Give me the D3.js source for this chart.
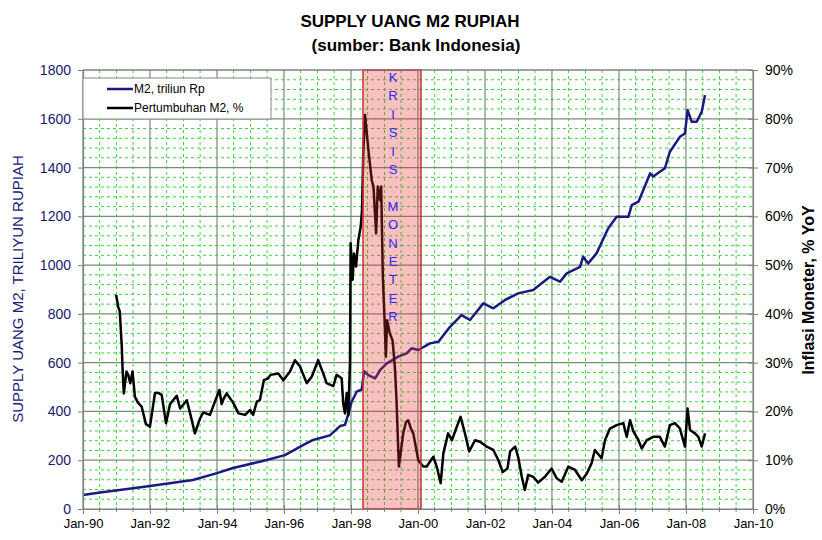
<!DOCTYPE html>
<html>
<head>
<meta charset="utf-8">
<script src="https://cdn.jsdelivr.net/npm/d3@7"></script>
<style>
  body { margin: 0; background: #fff; }
  svg text { font-family: Arial, "Liberation Sans", sans-serif; }
</style>
</head>
<body>
<svg id="chart" width="822" height="540"></svg>
<script>
// M2 money supply, trillion Rp (left axis)
var m2Years = [1990.00, 1990.51, 1991.10, 1992.00, 1993.28, 1994.00, 1994.48, 1995.28, 1996.03, 1996.57,
  1996.87, 1997.37, 1997.67, 1997.82, 1997.91, 1998.02, 1998.17, 1998.32, 1998.39, 1998.52,
  1998.72, 1998.87, 1999.07, 1999.41, 1999.66, 1999.81, 2000.01, 2000.36, 2000.61, 2000.96,
  2001.30, 2001.55, 2001.95, 2002.25, 2002.60, 2002.99, 2003.44, 2003.94, 2004.24, 2004.44,
  2004.84, 2004.93, 2005.08, 2005.33, 2005.68, 2005.93, 2006.28, 2006.38, 2006.58, 2006.93,
  2007.02, 2007.37, 2007.52, 2007.82, 2007.97, 2008.05, 2008.17, 2008.32, 2008.47, 2008.57];
var m2Values = [57, 68, 78, 94, 119, 147, 168, 194, 221, 262,
  283, 302, 340, 345, 385, 440, 481, 490, 565, 549,
  536, 570, 597, 625, 638, 659, 652, 679, 686, 747,
  795, 775, 843, 823, 857, 884, 898, 952, 932, 966,
  993, 1034, 1007, 1048, 1151, 1198, 1198, 1246, 1260, 1376,
  1363, 1397, 1465, 1526, 1540, 1636, 1588, 1588, 1629, 1697];

// M2 growth, % YoY (right axis)
var growthYears = [1990.99, 1991.05, 1991.10, 1991.16, 1991.18, 1991.22, 1991.30, 1991.35, 1991.41, 1991.48,
  1991.55, 1991.64, 1991.75, 1991.88, 1992.00, 1992.15, 1992.25, 1992.35, 1992.48, 1992.60,
  1992.80, 1992.90, 1993.10, 1993.22, 1993.34, 1993.49, 1993.59, 1993.79, 1993.91, 1994.07,
  1994.14, 1994.19, 1994.29, 1994.49, 1994.64, 1994.84, 1994.99, 1995.08, 1995.19, 1995.28,
  1995.40, 1995.53, 1995.60, 1995.83, 1995.98, 1996.18, 1996.33, 1996.48, 1996.68, 1996.83,
  1997.02, 1997.17, 1997.27, 1997.47, 1997.57, 1997.72, 1997.77, 1997.82, 1997.87, 1997.92,
  1997.97, 1997.99, 1998.05, 1998.09, 1998.15, 1998.22, 1998.29, 1998.33, 1998.37, 1998.42,
  1998.52, 1998.62, 1998.67, 1998.75, 1998.80, 1998.87, 1998.90, 1998.95, 1999.01, 1999.04,
  1999.08, 1999.16, 1999.24, 1999.31, 1999.36, 1999.43, 1999.56, 1999.64, 1999.71, 1999.79,
  1999.86, 2000.01, 2000.16, 2000.26, 2000.46, 2000.56, 2000.68, 2000.76, 2000.90, 2001.01,
  2001.16, 2001.27, 2001.40, 2001.53, 2001.70, 2001.85, 2002.05, 2002.25, 2002.40, 2002.53,
  2002.67, 2002.75, 2002.90, 2002.99, 2003.10, 2003.19, 2003.29, 2003.44, 2003.59, 2003.79,
  2003.99, 2004.14, 2004.29, 2004.49, 2004.69, 2004.89, 2005.04, 2005.18, 2005.28, 2005.48,
  2005.58, 2005.73, 2005.93, 2006.13, 2006.23, 2006.33, 2006.43, 2006.58, 2006.68, 2006.83,
  2007.02, 2007.22, 2007.37, 2007.52, 2007.67, 2007.82, 2007.97, 2008.05, 2008.12, 2008.27,
  2008.37, 2008.47, 2008.57];
var growthValues = [43.9, 41.5, 40.5, 33.3, 29.0, 23.7, 28.2, 27.5, 25.8, 28.2,
  23.0, 21.8, 21.0, 17.4, 16.9, 23.8, 23.8, 23.4, 17.6, 21.5,
  23.2, 20.6, 22.3, 19.0, 15.5, 18.5, 19.8, 19.3, 21.5, 24.4,
  21.5, 22.5, 23.7, 21.7, 19.6, 19.3, 20.3, 19.3, 22.0, 22.3,
  26.4, 26.8, 27.5, 27.8, 26.4, 28.2, 30.5, 29.2, 25.8, 27.1,
  30.5, 27.8, 25.8, 25.2, 27.5, 26.8, 21.5, 19.6, 23.8, 19.2,
  29.9, 54.5, 47.0, 52.4, 49.7, 55.1, 57.9, 61.3, 73.6, 80.8,
  73.6, 67.4, 66.1, 56.5, 66.1, 63.3, 66.1, 47.6, 37.4, 31.2,
  38.7, 36.0, 34.6, 29.2, 22.3, 8.7, 15.5, 17.8, 18.2, 16.5,
  15.5, 10.0, 8.7, 8.7, 10.7, 8.7, 5.3, 11.4, 15.5, 14.1,
  16.9, 18.9, 15.5, 11.8, 14.1, 13.8, 12.8, 12.1, 10.0, 7.6,
  8.3, 11.8, 12.8, 10.7, 6.6, 3.9, 7.0, 6.6, 5.4, 6.6,
  8.3, 6.3, 5.6, 8.7, 8.0, 5.9, 7.3, 9.4, 12.1, 10.4,
  14.1, 16.5, 17.2, 17.6, 14.8, 18.2, 15.9, 14.1, 12.4, 14.1,
  14.8, 14.8, 12.8, 17.2, 17.6, 16.5, 12.8, 20.6, 16.2, 15.5,
  14.8, 12.8, 15.5];

var leftTicks = d3.range(0, 1801, 200);
var rightTicks = d3.range(0, 91, 10);
var crisisSpan = [1998.36, 2000.09];
var crisisLabel = "KRISIS MONETER";
var legendNames = ["M2, triliun Rp", "Pertumbuhan M2, %"];

function toDate(y) {
  var yr = Math.floor(y);
  return new Date(yr, 0, 1 + Math.round((y - yr) * 365));
}

var svg = d3.select("#chart");
var pL = 83, pR = 753, pT = 70, pB = 509;

var x = d3.scaleTime().domain([new Date(1990, 0, 1), new Date(2010, 0, 1)]).range([pL, pR]);
var yL = d3.scaleLinear().domain([0, 1800]).range([pB, pT]);
var yR = d3.scaleLinear().domain([0, 90]).range([pB, pT]);

// grid
var grid = svg.append("g");
var minorX = d3.timeMonth.every(6).range(new Date(1990, 0, 1), new Date(2010, 0, 2))
  .filter(function(d) { return d.getMonth() != 0 || d.getFullYear() % 2 != 0; });
var majorX = d3.timeYear.every(2).range(new Date(1990, 0, 1), new Date(2010, 0, 2));
var minorY = d3.range(0, 1801, 40).filter(function(d) { return d % 200 != 0; });

grid.selectAll(".mx").data(minorX).enter().append("line")
  .attr("x1", function(d) { return x(d); }).attr("x2", function(d) { return x(d); })
  .attr("y1", pT).attr("y2", pB)
  .attr("stroke", "#3fd23f").attr("stroke-dasharray", "3,3").attr("stroke-width", 1);
grid.selectAll(".my").data(minorY).enter().append("line")
  .attr("x1", pL).attr("x2", pR)
  .attr("y1", function(d) { return yL(d); }).attr("y2", function(d) { return yL(d); })
  .attr("stroke", "#3fd23f").attr("stroke-dasharray", "3,3").attr("stroke-width", 1);
grid.selectAll(".Mx").data(majorX).enter().append("line")
  .attr("x1", function(d) { return x(d); }).attr("x2", function(d) { return x(d); })
  .attr("y1", pT).attr("y2", pB)
  .attr("stroke", "#6f936f").attr("stroke-width", 1.2);
grid.selectAll(".My").data(leftTicks).enter().append("line")
  .attr("x1", pL).attr("x2", pR)
  .attr("y1", function(d) { return yL(d); }).attr("y2", function(d) { return yL(d); })
  .attr("stroke", "#6f936f").attr("stroke-width", 1.2);

// lines
var m2Data = m2Years.map(function(d, i) { return [toDate(d), m2Values[i]]; });
var grData = growthYears.map(function(d, i) { return [toDate(d), growthValues[i]]; });

svg.append("path").datum(m2Data)
  .attr("fill", "none").attr("stroke", "#1a1a80").attr("stroke-width", 2.5)
  .attr("stroke-linejoin", "round")
  .attr("d", d3.line().x(function(d) { return x(d[0]); }).y(function(d) { return yL(d[1]); }));
svg.append("path").datum(grData)
  .attr("fill", "none").attr("stroke", "#000").attr("stroke-width", 2.5)
  .attr("stroke-linejoin", "round")
  .attr("d", d3.line().x(function(d) { return x(d[0]); }).y(function(d) { return yR(d[1]); }));

// crisis box on top, semi transparent
var cx0 = x(toDate(crisisSpan[0])), cx1 = x(toDate(crisisSpan[1]));
svg.append("rect")
  .attr("x", cx0).attr("y", pT).attr("width", cx1 - cx0).attr("height", pB - pT)
  .attr("fill", "#e83030").attr("fill-opacity", 0.3)
  .attr("stroke", "#c83030").attr("stroke-width", 1.5);
var ct = svg.append("text").attr("fill", "#2a2aee").attr("font-size", 13)
  .attr("text-anchor", "middle");
crisisLabel.split("").forEach(function(ch, i) {
  ct.append("tspan").attr("x", (cx0 + cx1) / 2 + 1).attr("y", pT + 12 + i * 18.4).text(ch);
});

// axes
var fmt = d3.timeFormat("%b-%y");
var gx = svg.append("g").attr("transform", "translate(0," + pB + ")")
  .call(d3.axisBottom(x).ticks(d3.timeYear.every(2)).tickFormat(fmt).tickSizeInner(5).tickSizeOuter(0).tickPadding(5));
gx.selectAll(".tick line").attr("y1", -4);
svg.append("g").selectAll("line").data(minorX).enter().append("line")
  .attr("x1", function(d) { return x(d); }).attr("x2", function(d) { return x(d); })
  .attr("y1", pB - 2).attr("y2", pB + 3).attr("stroke", "#808080");
gx.selectAll("text").attr("font-size", 13).attr("fill", "#000");

var gl = svg.append("g").attr("transform", "translate(" + pL + ",0)")
  .call(d3.axisLeft(yL).tickValues(leftTicks).tickFormat(d3.format("d"))
    .tickSizeInner(5).tickSizeOuter(0).tickPadding(7));
gl.selectAll("text").attr("font-size", 14).attr("fill", "#1a1a6e");

var gr = svg.append("g").attr("transform", "translate(" + pR + ",0)")
  .call(d3.axisRight(yR).tickValues(rightTicks).tickFormat(function(d) { return d + "%"; })
    .tickSizeInner(5).tickSizeOuter(0).tickPadding(7));
gr.selectAll(".tick line").attr("x1", -5);
gr.selectAll("text").attr("font-size", 14).attr("fill", "#000");

[gx, gl, gr].forEach(function(g) {
  g.select(".domain").attr("stroke", "#808080").attr("stroke-width", 1.2);
  g.selectAll(".tick line").attr("stroke", "#808080");
});
svg.append("line").attr("x1", pL).attr("x2", pR).attr("y1", pT).attr("y2", pT)
  .attr("stroke", "#808080").attr("stroke-width", 1.2);

// titles
svg.append("text").attr("x", 410).attr("y", 27).attr("text-anchor", "middle")
  .attr("font-size", 17).attr("font-weight", "bold").text("SUPPLY UANG M2 RUPIAH");
svg.append("text").attr("x", 416).attr("y", 51).attr("text-anchor", "middle")
  .attr("font-size", 17).attr("font-weight", "bold").text("(sumber: Bank Indonesia)");

svg.append("text").attr("transform", "translate(23,289) rotate(-90)").attr("text-anchor", "middle")
  .attr("font-size", 15).attr("fill", "#1a1a80").text("SUPPLY UANG M2, TRILIYUN RUPIAH");
svg.append("text").attr("transform", "translate(814,290) rotate(-90)").attr("text-anchor", "middle")
  .attr("font-size", 16).attr("font-weight", "bold").text("Inflasi Moneter, % YoY");

// legend
var lg = svg.append("g");
lg.append("rect").attr("x", 83).attr("y", 78).attr("width", 188).attr("height", 41)
  .attr("fill", "#fff").attr("stroke", "#888").attr("stroke-width", 1);
var legColors = ["#1a1a80", "#000"];
legendNames.forEach(function(n, i) {
  var ly = 89 + i * 19;
  lg.append("line").attr("x1", 107).attr("x2", 133).attr("y1", ly).attr("y2", ly)
    .attr("stroke", legColors[i]).attr("stroke-width", 2.5);
  lg.append("text").attr("x", 134).attr("y", ly + 4).attr("font-size", 12).text(n);
});
</script>
</body>
</html>
